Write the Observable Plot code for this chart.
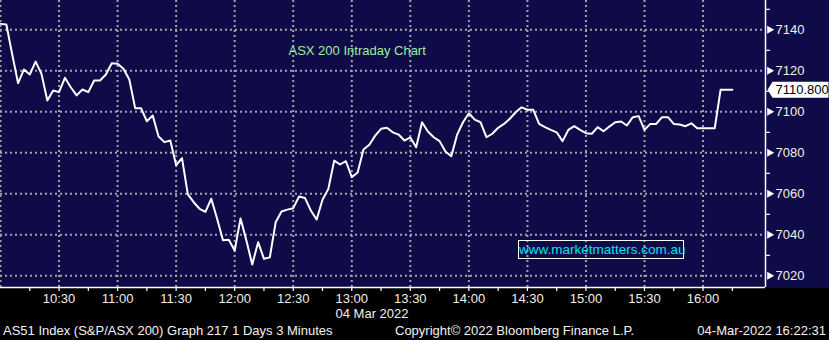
<!DOCTYPE html>
<html>
<head>
<meta charset="utf-8">
<script src="https://cdn.jsdelivr.net/npm/d3@7"></script>
<script src="https://cdn.jsdelivr.net/npm/@observablehq/plot@0.6"></script>
<style>
html, body { margin: 0; padding: 0; background: #000; }
#wrap { position: relative; width: 829px; height: 340px; overflow: hidden;
  background: linear-gradient(#0e0b48 0px, #0e0b48 288px, #000 288px, #000 340px);
  font-family: "Liberation Sans", Arial, sans-serif; }
#chart svg { display: block; }
#wm { position: absolute; left: 518px; top: 240px; width: 164px; height: 17px;
  border: 1px solid #ffffff; color: #00e4ec; font-family: "Liberation Sans Narrow", "Liberation Sans", sans-serif;
  font-size: 13.5px; line-height: 17px; text-align: center; white-space: nowrap; }
.ft { position: absolute; top: 323px; color: #f2f2f2; font-size: 13px; line-height: 15px; white-space: nowrap; }
</style>
</head>
<body>
<div id="wrap">
  <div id="chart"></div>
  <div id="wm"></div>
  <div class="ft" id="ft1" style="left:3px"></div>
  <div class="ft" id="ft2" style="left:395px"></div>
  <div class="ft" id="ft3" style="right:3px"></div>
</div>
<script>
// ---- data ----
const sessionDate = [2022, 2, 4];          // 04 Mar 2022
const startTime = "10:00";
const stepMinutes = 3;
const values = [
  7142.9, 7142.6, 7128.0, 7114.0, 7120.6, 7118.2, 7124.5, 7118.5, 7105.5, 7110.4,
  7109.6, 7116.6, 7112.0, 7108.0, 7110.9, 7109.6, 7115.3, 7115.3, 7118.2, 7123.7,
  7123.4, 7121.0, 7115.8, 7101.8, 7101.8, 7095.4, 7098.2, 7088.0, 7085.2, 7086.0,
  7074.0, 7077.4, 7059.7, 7055.9, 7052.7, 7051.2, 7057.6, 7047.8, 7037.4, 7037.6,
  7032.3, 7048.0, 7037.2, 7025.5, 7036.4, 7028.3, 7029.0, 7046.1, 7051.4, 7052.3,
  7053.0, 7058.7, 7058.0, 7051.9, 7047.5, 7057.1, 7062.4, 7076.2, 7074.3, 7075.9,
  7068.1, 7070.4, 7081.6, 7083.9, 7088.4, 7091.7, 7092.2, 7090.0, 7088.9, 7086.0,
  7087.5, 7082.7, 7094.9, 7090.4, 7087.6, 7085.7, 7080.6, 7078.3, 7088.9, 7094.9,
  7099.3, 7096.2, 7094.9, 7087.6, 7089.3, 7092.2, 7094.1, 7096.6, 7099.8, 7102.2,
  7101.0, 7101.0, 7094.1, 7092.5, 7091.2, 7090.0, 7085.7, 7091.2, 7093.0, 7091.2,
  7089.6, 7089.3, 7092.5, 7090.5, 7092.8, 7094.9, 7095.3, 7093.3, 7097.4, 7097.9,
  7091.2, 7094.1, 7094.1, 7097.4, 7097.4, 7094.1, 7093.8, 7093.0, 7094.4, 7092.0,
  7092.0, 7092.0, 7092.0, 7110.8, 7110.8, 7110.8
];
const lastValue = 7110.8;
const lastLabel = "7110.800";
const xDomainTimes = ["10:00", "16:32"];
const yDomain = [7014.3, 7154.3];
const gridTimes = ["10:00","10:30","11:00","11:30","12:00","12:30","13:00","13:30","14:00","14:30","15:00","15:30","16:00"];
const labelTimes = ["10:30","11:00","11:30","12:00","12:30","13:00","13:30","14:00","14:30","15:00","15:30","16:00"];
const minorTimes = ["10:15","10:30","10:45","11:00","11:15","11:30","11:45","12:00","12:15","12:30","12:45","13:00","13:15","13:30","13:45","14:00","14:15","14:30","14:45","15:00","15:15","15:30","15:45","16:00","16:15"];
const yTicks = [7020, 7040, 7060, 7080, 7100, 7120, 7140];
const yMinorTicks = [7030, 7050, 7070, 7090, 7110, 7130, 7150];
const titleText = "ASX 200 Intraday Chart";
const dateLabel = "04 Mar 2022";
const watermark = "www.marketmatters.com.au";
const footerLeft = "AS51 Index (S&P/ASX 200) Graph 217 1 Days 3 Minutes";
const footerMid = "Copyright\u00A9 2022 Bloomberg Finance L.P.";
const footerRight = "04-Mar-2022 16:22:31";

// ---- build ----
const parse = (t) => { const [h, m] = t.split(":").map(Number); return new Date(Date.UTC(sessionDate[0], sessionDate[1], sessionDate[2], h, m)); };
const t0 = parse(startTime);
const data = values.map((v, i) => ({ time: new Date(+t0 + i * stepMinutes * 60000), value: v }));
const xDomain = xDomainTimes.map(parse);
const xMax = xDomain[1];
const fmt = d3.utcFormat("%H:%M");
const last = [{ time: xMax, value: lastValue, label: lastLabel }];

const labelShape = {
  draw(ctx) {
    ctx.moveTo(0, 0);
    ctx.lineTo(5, -8);
    ctx.lineTo(61, -8);
    ctx.lineTo(61, 8);
    ctx.lineTo(5, 8);
    ctx.closePath();
  }
};

const grid = { stroke: "#a4a4a4", strokeOpacity: 1, strokeWidth: 2, strokeDasharray: "2,3" };

const chart = Plot.plot({
  width: 829,
  height: 318,
  marginLeft: 0,
  marginRight: 64,
  marginTop: 0,
  marginBottom: 31,
  style: { background: "transparent", fontFamily: "'Liberation Sans', Arial, sans-serif", fontSize: "13px", color: "#f2f2f2", overflow: "visible" },
  x: { type: "utc", domain: xDomain, label: null },
  y: { domain: yDomain, label: null },
  marks: [
    Plot.gridX(gridTimes.map(parse), grid),
    Plot.gridY(yTicks, grid),
    Plot.axisX(minorTimes.map(parse), { tickSize: 4, tickFormat: () => "", stroke: "#ffffff", strokeWidth: 1.2, label: null }),
    Plot.axisX(labelTimes.map(parse), { tickSize: 0, tickPadding: 6, tickFormat: fmt, fill: "#f4efe6", fontSize: 13, label: null }),
    Plot.axisY(yMinorTicks, { anchor: "right", tickSize: 4, tickFormat: () => "", stroke: "#ffffff", strokeWidth: 1.2, label: null }),
    Plot.axisY(yTicks, { anchor: "right", tickSize: 0, tickPadding: 10, tickFormat: (d) => String(d), fill: "#f4efe6", fontSize: 13, label: null }),
    Plot.dot(yTicks, { x: () => xMax, y: (d) => d, symbol: "triangle", rotate: 90, r: 3, fill: "#ffffff", stroke: "none", dx: 4 }),
    Plot.ruleX([xMax], { stroke: "#ffffff", strokeWidth: 1.5 }),
    Plot.ruleY([yDomain[0]], { stroke: "#ffffff", strokeWidth: 1.5 }),
    Plot.line(data, { x: "time", y: "value", stroke: "#ffffff", strokeWidth: 2 }),
    Plot.text([titleText], { text: (d) => d, frameAnchor: "top-left", dx: 288, dy: 50, textAnchor: "start", lineAnchor: "middle", fill: "#9cf09c", fontSize: 13 }),
    Plot.text([dateLabel], { text: (d) => d, frameAnchor: "bottom", dx: -11, dy: 26, lineAnchor: "middle", fill: "#f4efe6", fontSize: 13 }),
    Plot.dot(last, { x: "time", y: "value", symbol: labelShape, fill: "#ffffff", stroke: "none", dx: 2, clip: false }),
    Plot.text(last, { x: "time", y: "value", text: "label", dx: 10, textAnchor: "start", fill: "#000000", fontSize: 13 })
  ]
});
document.getElementById("chart").appendChild(chart);
document.getElementById("wm").textContent = watermark;
document.getElementById("ft1").textContent = footerLeft;
document.getElementById("ft2").textContent = footerMid;
document.getElementById("ft3").textContent = footerRight;
</script>
</body>
</html>
